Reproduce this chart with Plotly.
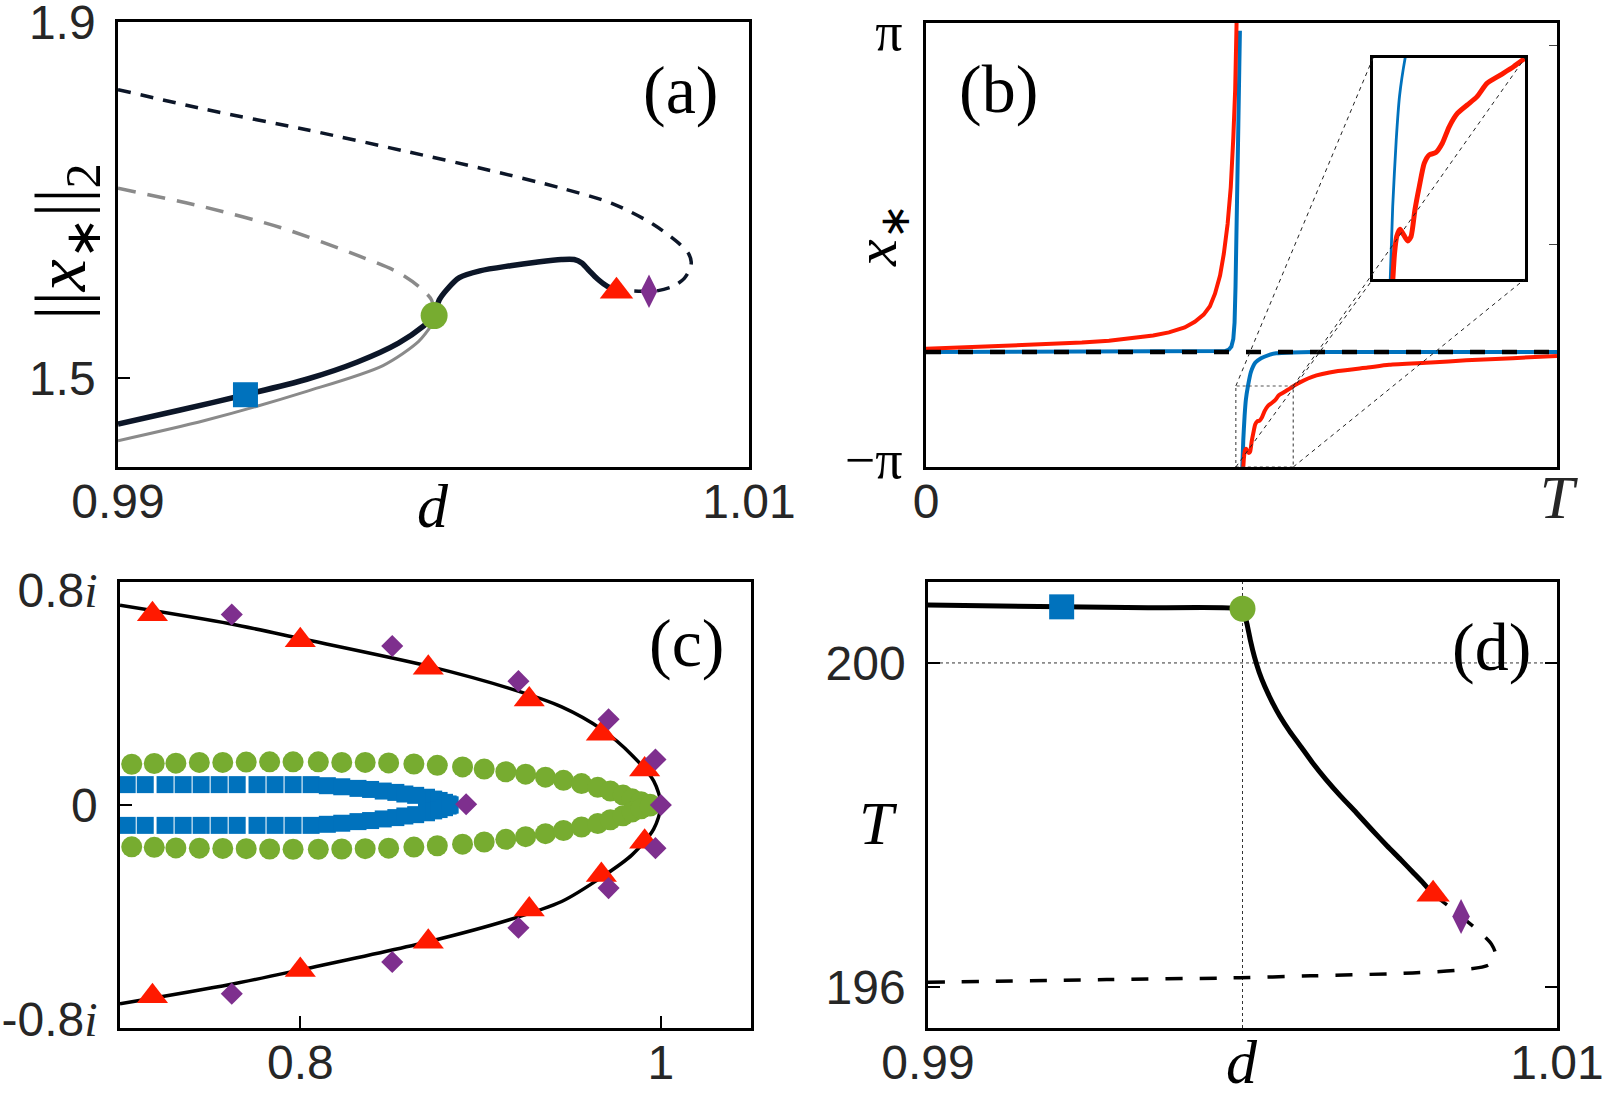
import plotly.graph_objects as go

W, H = 1603, 1119

# ---------------- panel (a) data ----------------
a_stable_d = [0.99, 0.99194, 0.99404, 0.99598, 0.99759, 0.99889, 0.99969, 1.00002, 1.00018, 1.00042,
              1.00082, 1.00147, 1.00244, 1.00325, 1.00405, 1.00446, 1.0047, 1.00494, 1.00519, 1.00551, 1.0058]
a_stable_y = [1.4483, 1.4638, 1.4812, 1.4986, 1.518, 1.5392, 1.5585, 1.5701, 1.5876, 1.5992,
              1.6127, 1.6204, 1.6262, 1.6301, 1.6332, 1.6332, 1.6293, 1.6204, 1.6115, 1.603, 1.5992]
a_unstable_d = [0.99, 0.99275, 0.99598, 0.99921, 1.00163, 1.00405, 1.00567, 1.00696, 1.00777, 1.00808,
                1.00817, 1.00812, 1.00795, 1.00761, 1.00712, 1.00683, 1.0058]
a_unstable_y = [1.824, 1.802, 1.779, 1.754, 1.7346, 1.7133, 1.696, 1.6728, 1.6515, 1.640,
                1.6302, 1.622, 1.612, 1.6032, 1.5982, 1.5974, 1.5985]
a_gray_d = [0.99, 0.99275, 0.99598, 0.9984, 0.99953, 1.0]
a_gray_y = [1.4295, 1.4522, 1.485, 1.514, 1.5411, 1.5624]
a_graydash_d = [0.99, 0.99275, 0.99517, 0.99759, 0.99889, 0.99953, 0.99994, 1.0]
a_graydash_y = [1.7132, 1.692, 1.6688, 1.6378, 1.6185, 1.603, 1.5875, 1.57]
a_square = (0.99404, 1.4812)
a_circle = (1.00002, 1.5701)
a_triangle = (1.0058, 1.5975)
a_diamond = (1.00683, 1.5974)
a_xticks = [0.99, 1.01]
a_yticks = [1.5, 1.9]

# ---------------- panel (b) data ----------------
b_red1_t = [0, 0.06, 0.126, 0.19, 0.247, 0.29, 0.329, 0.36, 0.385, 0.41, 0.426, 0.44, 0.45, 0.458,
            0.466, 0.472, 0.478, 0.483, 0.487, 0.490, 0.4925]
b_red1_x = [-1.526, -1.506, -1.487, -1.460, -1.434, -1.408, -1.369, -1.330, -1.284, -1.213, -1.128,
            -1.024, -0.900, -0.717, -0.450, -0.130, 0.306, 0.848, 1.571, 2.282, 3.4]
b_red2_t = [0.5020, 0.5039, 0.5052, 0.5072, 0.5094, 0.5118, 0.5138, 0.5161, 0.5187, 0.5217, 0.5247,
            0.5286, 0.5325, 0.5366, 0.5415, 0.5474, 0.5533, 0.5592, 0.5672, 0.5751, 0.582, 0.612,
            0.653, 0.70, 0.734, 0.80, 0.856, 0.93, 1.0]
b_red2_x = [-3.4, -3.120, -3.031, -2.992, -3.023, -3.055, -3.031, -2.888, -2.763, -2.637, -2.592,
            -2.580, -2.530, -2.441, -2.369, -2.324, -2.279, -2.208, -2.163, -2.118, -2.073, -1.936,
            -1.852, -1.800, -1.760, -1.728, -1.695, -1.663, -1.630]
b_blue1_t = [0, 0.466, 0.474, 0.480, 0.484, 0.487, 0.489, 0.4905, 0.492, 0.4935, 0.495, 0.4965, 0.4975]
b_blue1_x = [-1.571, -1.571, -1.558, -1.536, -1.493, -1.382, -1.141, -0.619, 0.0, 0.828, 1.767, 2.595, 3.142]
b_blue2_t = [0.5008, 0.5028, 0.5049, 0.5069, 0.5102, 0.515, 0.522, 0.531, 0.543, 0.555, 0.58, 0.612, 1.0]
b_blue2_x = [-3.4, -2.869, -2.512, -2.275, -2.073, -1.865, -1.728, -1.663, -1.617, -1.591, -1.578, -1.571, -1.571]
b_ref_t = [0, 1]
b_ref_x = [-1.571, -1.571]
b_zoom_t = [0.491, 0.582]
b_zoom_x = [-3.26, -2.071]
b_range_x = [-3.26, 3.26]
b_right_ticks = [0, 2.92]
b_xticks = [0, 1]
b_yticks = [-3.14159, 3.14159]

# ---------------- panel (c) data ----------------
c_curve_re = [0.700, 0.761, 0.800, 0.871, 0.916, 0.945, 0.967, 0.984, 0.996, 1.0,
              0.996, 0.984, 0.967, 0.945, 0.916, 0.871, 0.800, 0.761, 0.700]
c_curve_im = [0.745, 0.676, 0.621, 0.518, 0.435, 0.366, 0.283, 0.186, 0.09, 0.0,
              -0.09, -0.186, -0.27, -0.36, -0.428, -0.51, -0.615, -0.67, -0.742]
c_tri_re = [0.718, 0.80, 0.871, 0.927, 0.967, 0.991, 0.991, 0.967, 0.927, 0.871, 0.80, 0.718]
c_tri_im = [0.712, 0.615, 0.512, 0.394, 0.266, 0.132, -0.137, -0.261, -0.39, -0.51, -0.616, -0.714]
c_dia_re = [0.762, 0.851, 0.921, 0.971, 0.997, 1.0, 0.892, 0.997, 0.971, 0.921, 0.851, 0.762]
c_dia_im = [0.711, 0.593, 0.462, 0.32, 0.17, 0.0, 0.003, -0.161, -0.31, -0.458, -0.586, -0.704]
c_green_re = [0.7065, 0.719, 0.731, 0.744, 0.757, 0.770, 0.783, 0.796, 0.810, 0.823, 0.836, 0.849, 0.863,
              0.876, 0.890, 0.902, 0.914, 0.925, 0.936, 0.946, 0.956, 0.965, 0.972, 0.979, 0.984, 0.989, 0.994]
c_green_im_top = [0.152, 0.155, 0.156, 0.159, 0.159, 0.160, 0.161, 0.161, 0.161, 0.159, 0.159, 0.157, 0.153,
                  0.148, 0.142, 0.134, 0.124, 0.115, 0.104, 0.092, 0.080, 0.066, 0.052, 0.037, 0.023, 0.012, 0.003]
c_green_im_bot = [-0.156, -0.158, -0.160, -0.161, -0.162, -0.163, -0.164, -0.165, -0.165, -0.164, -0.163,
                  -0.161, -0.157, -0.152, -0.146, -0.138, -0.128, -0.118, -0.107, -0.095, -0.082, -0.069,
                  -0.055, -0.040, -0.026, -0.014, -0.004]
c_blue_re = [0.704, 0.714, 0.725, 0.735, 0.745, 0.755, 0.765, 0.776, 0.786, 0.796, 0.806, 0.815, 0.823,
             0.832, 0.839, 0.846, 0.853, 0.858, 0.864, 0.870, 0.874, 0.877, 0.880, 0.882, 0.883]
c_blue_im_top = [0.076, 0.076, 0.076, 0.076, 0.076, 0.076, 0.076, 0.076, 0.076, 0.076, 0.076, 0.072, 0.068,
                 0.062, 0.058, 0.052, 0.047, 0.041, 0.036, 0.029, 0.022, 0.017, 0.010, 0.004, 0.0]
c_blue_im_bot = [-0.076, -0.076, -0.076, -0.076, -0.076, -0.076, -0.076, -0.076, -0.076, -0.076, -0.076,
                 -0.072, -0.068, -0.062, -0.058, -0.052, -0.047, -0.041, -0.036, -0.029, -0.022, -0.017,
                 -0.010, -0.004, 0.0]
c_xticks = [0.8, 1.0]
c_yticks = [-0.8, 0, 0.8]

# ---------------- panel (d) data ----------------
d_stable_d = [0.99, 0.99425, 0.997, 0.99993, 1.00005, 1.00014, 1.00025, 1.00038, 1.00053, 1.00071,
              1.00094, 1.00119, 1.0015, 1.00184, 1.00222, 1.00265, 1.00312, 1.00362, 1.0041, 1.0046,
              1.00502, 1.00541, 1.00575, 1.00606]
d_stable_T = [200.716, 200.693, 200.682, 200.67, 200.60, 200.487, 200.28, 200.074, 199.885, 199.708,
              199.52, 199.341, 199.155, 198.975, 198.77, 198.562, 198.355, 198.15, 197.945, 197.738,
              197.575, 197.417, 197.28, 197.142]
d_unstable_d = [1.00606, 1.00654, 1.00695, 1.00752, 1.00792, 1.00805, 1.00784, 1.00703, 1.00541,
                1.00217, 0.99993, 0.99568, 0.99]
d_unstable_T = [197.142, 197.0, 196.867, 196.684, 196.523, 196.386, 196.271, 196.212, 196.17,
                196.134, 196.111, 196.088, 196.056]
d_square = (0.99425, 200.693)
d_circle = (1.0, 200.67)
d_triangle = (1.00606, 197.142)
d_diamond = (1.00695, 196.867)
d_ref_d = 1.0
d_ref_T = 200
d_xticks = [0.99, 1.01]
d_yticks = [196, 200]

# ---------------- styles ----------------
NAVY = '#0c1628'
BLUE = '#0072bd'
GREEN = '#77ac30'
RED = '#ff1a00'
PURPLE = '#7e2f8e'
GRAY = '#8a8a8a'
SANS = 'Liberation Sans, Arial, sans-serif'
SERIF = 'Liberation Serif, Times New Roman, serif'


def dx(p0, p1):
    return [p0 / W, p1 / W]


def dy(p0, p1):
    return [1 - p1 / H, 1 - p0 / H]


DOM = {
    'a': (dx(118, 749), dy(22, 467)),
    'b': (dx(926, 1557), dy(22.7, 467)),
    'in': (dx(1373, 1525), dy(58, 279)),
    'c': (dx(120, 751), dy(582, 1028)),
    'd': (dx(928, 1557), dy(582, 1028)),
}
# small padding so that ticks lying exactly on a frame edge still get their label
PAD = 1e-6

fig = go.Figure()


def line(x, y, xa, ya, color, width, dash='solid', shape='linear', smoothing=0.8):
    fig.add_trace(go.Scatter(x=x, y=y, xaxis=xa, yaxis=ya, mode='lines',
                             line=dict(color=color, width=width, dash=dash, shape=shape,
                                       smoothing=smoothing),
                             hoverinfo='skip'))


def marks(x, y, xa, ya, color, symbol, size):
    fig.add_trace(go.Scatter(x=x, y=y, xaxis=xa, yaxis=ya, mode='markers',
                             marker=dict(color=color, symbol=symbol, size=size, line=dict(width=0)),
                             hoverinfo='skip'))


def rng(lo, hi):
    span = hi - lo
    return [lo - span * PAD, hi + span * PAD]


# (a)
line(a_gray_d, a_gray_y, 'x', 'y', GRAY, 3, shape='spline')
line(a_graydash_d, a_graydash_y, 'x', 'y', GRAY, 3.5, dash='18px,12px', shape='spline')
line(a_unstable_d, a_unstable_y, 'x', 'y', NAVY, 3.5, dash='13px,10px', shape='spline')
line(a_stable_d, a_stable_y, 'x', 'y', NAVY, 5.5, shape='spline')
marks([a_square[0]], [a_square[1]], 'x', 'y', BLUE, 'square', 25)
marks([a_circle[0]], [a_circle[1]], 'x', 'y', GREEN, 'circle', 27)
marks([a_triangle[0]], [a_triangle[1]], 'x', 'y', RED, 'triangle-up', 29)
marks([a_diamond[0]], [a_diamond[1]], 'x', 'y', PURPLE, 'diamond-tall', 24)

# (b)
line(b_blue1_t, b_blue1_x, 'x2', 'y2', BLUE, 4)
line(b_blue2_t, b_blue2_x, 'x2', 'y2', BLUE, 4, shape='spline', smoothing=0.5)
line(b_red1_t, b_red1_x, 'x2', 'y2', RED, 4)
line(b_red2_t, b_red2_x, 'x2', 'y2', RED, 4, shape='spline', smoothing=0.6)
line(b_ref_t, b_ref_x, 'x2', 'y6', 'black', 4.5, dash='15px,17px')

# inset of (b): same data, zoomed axes
line(b_blue2_t, b_blue2_x, 'x3', 'y3', BLUE, 2.8, shape='spline', smoothing=0.5)
line(b_red2_t, b_red2_x, 'x3', 'y3', RED, 5, shape='spline', smoothing=0.6)

# (c)
line(c_curve_re, c_curve_im, 'x4', 'y4', 'black', 3.5, shape='spline')
marks(c_green_re, c_green_im_top, 'x4', 'y4', GREEN, 'circle', 21)
marks(c_green_re, c_green_im_bot, 'x4', 'y4', GREEN, 'circle', 21)
marks(c_blue_re, c_blue_im_top, 'x4', 'y4', BLUE, 'square', 17)
marks(c_blue_re, c_blue_im_bot, 'x4', 'y4', BLUE, 'square', 17)
marks(c_tri_re, c_tri_im, 'x4', 'y4', RED, 'triangle-up', 27)
marks(c_dia_re, c_dia_im, 'x4', 'y4', PURPLE, 'diamond', 17)

# (d)
line(d_unstable_d, d_unstable_T, 'x5', 'y5', 'black', 3.5, dash='17px,17px', shape='spline')
line(d_stable_d, d_stable_T, 'x5', 'y5', 'black', 5, shape='spline', smoothing=0.4)
marks([d_square[0]], [d_square[1]], 'x5', 'y5', BLUE, 'square', 25)
marks([d_circle[0]], [d_circle[1]], 'x5', 'y5', GREEN, 'circle', 26)
marks([d_triangle[0]], [d_triangle[1]], 'x5', 'y5', RED, 'triangle-up', 29)
marks([d_diamond[0]], [d_diamond[1]], 'x5', 'y5', PURPLE, 'diamond-tall', 25)

TICKFONT = dict(family=SANS, size=48, color='#262626')
base = dict(showline=True, linecolor='black', linewidth=2.5, mirror=True, showgrid=False,
            zeroline=False, ticks='inside', ticklen=12, tickwidth=1.5, tickcolor='black',
            tickfont=TICKFONT, fixedrange=True, automargin=False, ticklabeloverflow='allow')
plain = dict(showline=True, linecolor='black', linewidth=3, mirror=True, showgrid=False,
             zeroline=False, showticklabels=False, ticks='', fixedrange=True, automargin=False)

ital_i = '<span style="font-family:Liberation Serif"><i>i</i></span>'
ital_T = '<span style="font-family:Liberation Serif;font-size:62px"><i>T</i></span>'
XSTAND = -9

fig.update_layout(
    width=W, height=H, margin=dict(l=0, r=0, t=0, b=0, autoexpand=False),
    paper_bgcolor='white', plot_bgcolor='white', showlegend=False,
    xaxis=dict(base, domain=DOM['a'][0], anchor='y', range=rng(0.99, 1.01),
               tickvals=a_xticks, ticktext=['0.99', '1.01'], ticklabelstandoff=XSTAND),
    yaxis=dict(base, domain=DOM['a'][1], anchor='x', range=rng(1.4, 1.9),
               tickvals=a_yticks, ticktext=['1.5', '1.9'], ticklabelstandoff=10),
    xaxis2=dict(base, domain=DOM['b'][0], anchor='y2', range=rng(0, 1),
                tickvals=b_xticks, ticktext=['0', ital_T], ticks='', ticklabelstandoff=XSTAND),
    yaxis2=dict(base, domain=DOM['b'][1], anchor='x2', range=b_range_x, ticks='',
                tickvals=b_yticks, ticktext=['\u2212\u03c0', '\u03c0'],
                tickfont=dict(family=SERIF, size=54, color='black'), ticklabelstandoff=10),
    yaxis6=dict(overlaying='y2', anchor='x2', side='right', range=b_range_x, showline=False,
                showgrid=False, zeroline=False, tickvals=b_right_ticks, ticks='inside', ticklen=8,
                tickwidth=1, tickcolor='#444', showticklabels=False, fixedrange=True, automargin=False),
    xaxis3=dict(plain, domain=DOM['in'][0], anchor='y3', range=b_zoom_t),
    yaxis3=dict(plain, domain=DOM['in'][1], anchor='x3', range=b_zoom_x),
    xaxis4=dict(base, domain=DOM['c'][0], anchor='y4', range=[0.7, 1.05],
                tickvals=c_xticks, ticktext=['0.8', '1'], ticklabelstandoff=XSTAND),
    yaxis4=dict(base, domain=DOM['c'][1], anchor='x4', range=[-0.832, 0.832], ticks='',
                tickvals=c_yticks, ticktext=['-0.8' + ital_i, '0', '0.8' + ital_i],
                minor=dict(tickvals=[0], ticks='inside', ticklen=12, tickwidth=1.5, tickcolor='black'),
                ticklabelstandoff=10),
    xaxis5=dict(base, domain=DOM['d'][0], anchor='y5', range=rng(0.99, 1.01),
                tickvals=d_xticks, ticktext=['0.99', '1.01'], ticklabelstandoff=XSTAND),
    yaxis5=dict(base, domain=DOM['d'][1], anchor='x5', range=[195.49, 201.0], mirror='ticks',
                tickvals=d_yticks, ticktext=['196', '200'], ticklabelstandoff=10),
)

# dotted reference lines in (d)
fig.add_shape(type='line', xref='x5', yref='y5 domain', x0=d_ref_d, x1=d_ref_d, y0=0, y1=1,
              line=dict(color='#333', width=1, dash='3px,3px'), layer='below')
fig.add_shape(type='line', xref='x5 domain', yref='y5', x0=0, x1=1, y0=d_ref_T, y1=d_ref_T,
              line=dict(color='#333', width=1, dash='3px,3px'), layer='below')

# zoom rectangle in (b) and connectors to the inset
fig.add_shape(type='rect', xref='x2', yref='y2', x0=b_zoom_t[0], x1=b_zoom_t[1],
              y0=b_zoom_x[0], y1=b_zoom_x[1], line=dict(color='#555', width=1.2, dash='3px,3px'))


def to_paper(v, r, dom):
    return dom[0] + (v - r[0]) / (r[1] - r[0]) * (dom[1] - dom[0])


bx, by = DOM['b']
ix, iy = DOM['in']
rx = [to_paper(v, [0, 1], bx) for v in b_zoom_t]
ry = [to_paper(v, b_range_x, by) for v in b_zoom_x]
for i in (0, 1):
    for j in (0, 1):
        fig.add_shape(type='line', xref='paper', yref='paper', x0=rx[i], y0=ry[j], x1=ix[i], y1=iy[j],
                      line=dict(color='#222', width=1, dash='4px,4px'))


def note(text, px, py, size, angle=0, family=SERIF):
    fig.add_annotation(text=text, x=px / W, y=1 - py / H, xref='paper', yref='paper',
                       showarrow=False, xanchor='center', yanchor='middle', textangle=angle,
                       font=dict(family=family, size=size, color='black'))


note('(a)', 680, 90, 68)
note('(b)', 998, 89, 68)
note('(c)', 686, 643, 68)
note('(d)', 1491, 647, 68)
note('<i>d</i>', 433, 506, 62)
note('<i>d</i>', 1242, 1062, 62)
note('||<i>x</i><sub>\u2217</sub>||<sub>2</sub>', 66, 242, 72, angle=-90)
note('<i>x</i><sub>\u2217</sub>', 880, 236, 60, angle=-90)
note('<i>T</i>', 879, 823, 62)

fig.write_html('out.html')
